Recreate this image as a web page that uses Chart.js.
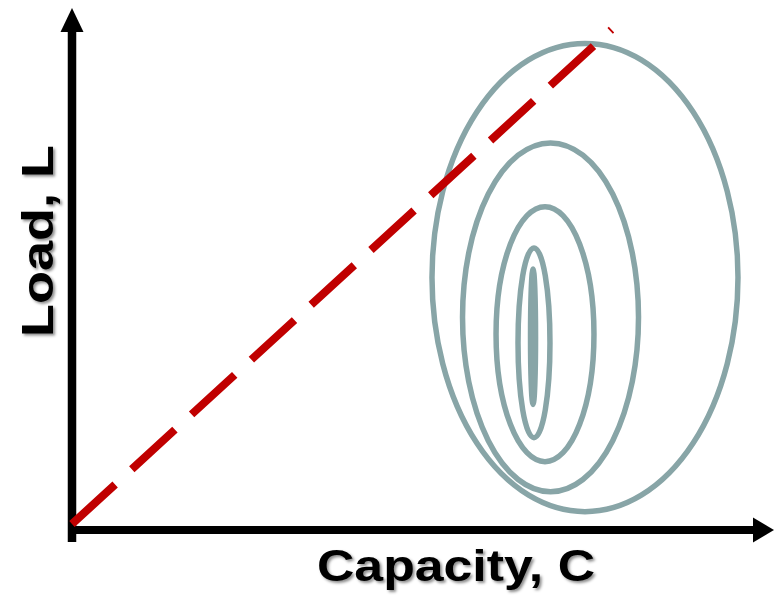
<!DOCTYPE html>
<html>
<head>
<meta charset="utf-8">
<script src="https://cdn.jsdelivr.net/npm/chart.js@4.4.1/dist/chart.umd.min.js"></script>
<style>
    html, body { margin: 0; padding: 0; background: #ffffff; }
    canvas { display: block; }
</style>
</head>
<body>
<canvas id="chart" width="774" height="596"></canvas>
<script>
// axis titles
const xTitle = "Capacity, C";
const yTitle = "Load, L";

// limit-state line L = C (dashed), from origin to upper right
const lineX = [0, 79.34];
const lineY = [1.18, 98.12];

// contours of the joint density, outer to inner
const ellipseCx = [75.44, 70.37, 69.56, 67.94, 67.8];
const ellipseCy = [49.5, 41.7, 38.4, 36.7, 37.9];
const ellipseRx = [22.5, 12.94, 7.2, 2.35, 0.37];
const ellipseRy = [45.9, 34.2, 25.0, 18.6, 13.3];

const contourColor = "#88a5a7";
const lineColor = "#c00000";

const contours = {
    id: "contours",
    beforeDatasetsDraw(chart) {
        const { ctx, scales } = chart;
        const xs = scales.x;
        const ys = scales.y;
        ctx.save();
        ctx.strokeStyle = contourColor;
        ctx.lineWidth = 5.5;
        ellipseCx.forEach((cx, i) => {
            const px = xs.getPixelForValue(cx);
            const py = ys.getPixelForValue(ellipseCy[i]);
            const rx = Math.abs(xs.getPixelForValue(cx + ellipseRx[i]) - px);
            const ry = Math.abs(ys.getPixelForValue(ellipseCy[i] + ellipseRy[i]) - py);
            ctx.beginPath();
            ctx.ellipse(px, py, rx, ry, 0, 0, Math.PI * 2);
            ctx.stroke();
        });

        // axes with arrow heads
        const ox = xs.getPixelForValue(0);
        const oy = ys.getPixelForValue(0);
        ctx.fillStyle = "#000";
        ctx.strokeStyle = "#000";
        ctx.lineWidth = 8.5;
        ctx.lineCap = "butt";
        ctx.beginPath();
        ctx.moveTo(ox, oy + 12);
        ctx.lineTo(ox, 30);
        ctx.stroke();
        ctx.lineWidth = 8;
        ctx.beginPath();
        ctx.moveTo(ox - 4, oy);
        ctx.lineTo(755, oy);
        ctx.stroke();

        ctx.beginPath();
        ctx.moveTo(ox, 8);
        ctx.lineTo(ox + 11.5, 32);
        ctx.lineTo(ox - 11.5, 32);
        ctx.closePath();
        ctx.fill();

        ctx.beginPath();
        ctx.moveTo(774, oy);
        ctx.lineTo(753, oy - 12.5);
        ctx.lineTo(753, oy + 12.5);
        ctx.closePath();
        ctx.fill();
        ctx.restore();
    },
    afterDraw(chart) {
        const { ctx } = chart;
        ctx.save();
        ctx.font = "bold 45px 'Liberation Sans', Arial, sans-serif";
        ctx.fillStyle = "#000";
        ctx.shadowColor = "rgba(0,0,0,0.45)";
        ctx.shadowOffsetX = 2;
        ctx.shadowOffsetY = 2;
        ctx.shadowBlur = 3;
        ctx.textAlign = "center";
        ctx.textBaseline = "alphabetic";

        ctx.save();
        ctx.translate(456, 581);
        ctx.scale(1.15, 1);
        ctx.fillText(xTitle, 0, 0);
        ctx.restore();

        ctx.save();
        ctx.translate(53, 241);
        ctx.rotate(-Math.PI / 2);
        ctx.scale(1.2, 1);
        ctx.fillText(yTitle, 0, 0);
        ctx.restore();
        ctx.restore();
    },
};

new Chart(document.getElementById("chart"), {
    type: "scatter",
    data: {
        datasets: [
            {
                data: lineX.map((x, i) => ({ x: x, y: lineY[i] })),
                showLine: true,
                borderColor: lineColor,
                borderWidth: 8,
                borderDash: [58.5, 22.6],
                borderCapStyle: "butt",
                pointRadius: 0,
                clip: false,
            },
        ],
    },
    options: {
        responsive: false,
        animation: false,
        layout: { padding: { left: 72, right: 22, top: 20, bottom: 66 } },
        plugins: {
            legend: { display: false },
            tooltip: { enabled: false },
        },
        scales: {
            x: { type: "linear", min: 0, max: 100, display: false },
            y: { type: "linear", min: 0, max: 100, display: false },
        },
    },
    plugins: [contours],
});
</script>
</body>
</html>
